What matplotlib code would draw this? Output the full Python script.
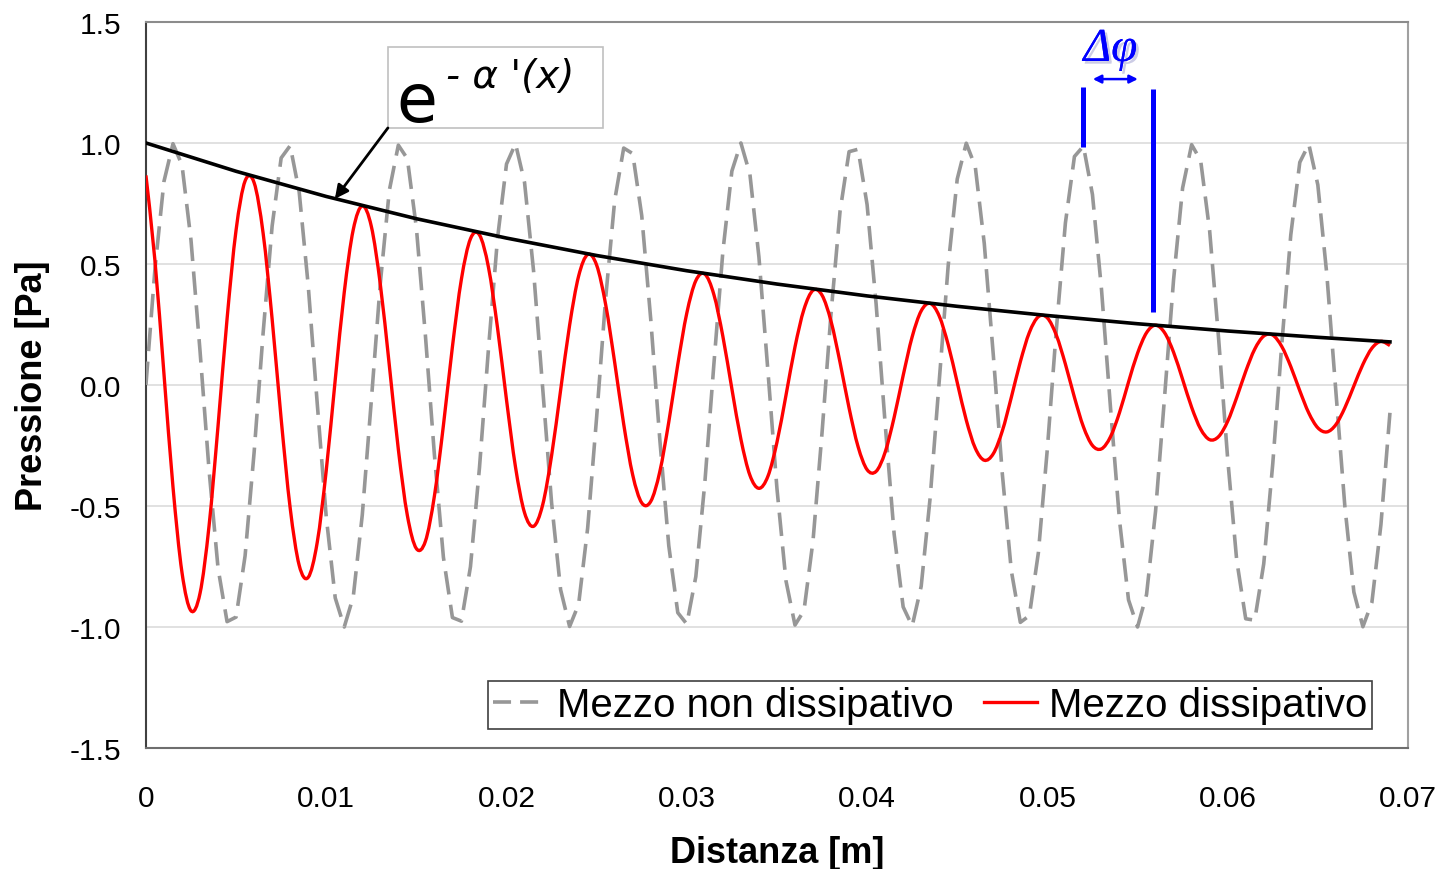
import numpy as np
import matplotlib
matplotlib.use("Agg")
import matplotlib.pyplot as plt
from matplotlib.patches import Rectangle, PathPatch
from matplotlib.path import Path
from matplotlib.lines import Line2D
import matplotlib.patheffects as pe

plt.rcParams['font.family'] = ['Liberation Sans', 'DejaVu Sans']
plt.rcParams['axes.unicode_minus'] = False

# passo di campionamento della distanza [m]
passo = 0.0005

# pressione nel mezzo non dissipativo [Pa]
p_non_diss = [
    0, 0.479, 0.841, 0.997, 0.909, 0.598, 0.141, -0.351, -0.757, -0.978, -0.959, -0.706, -0.279,
    0.215, 0.657, 0.938, 0.989, 0.798, 0.412, -0.075, -0.544, -0.880, -1.000, -0.875, -0.537, -0.066,
    0.420, 0.804, 0.991, 0.935, 0.650, 0.206, -0.288, -0.712, -0.961, -0.976, -0.751, -0.342,
    0.150, 0.605, 0.913, 0.997, 0.837, 0.472, -0.009, -0.487, -0.846, -0.998, -0.906, -0.592, -0.132,
    0.359, 0.763, 0.979, 0.956, 0.700, 0.271, -0.223, -0.664, -0.941, -0.988, -0.792, -0.404,
    0.084, 0.551, 0.884, 1.000, 0.871, 0.529, 0.057, -0.428, -0.809, -0.992, -0.932, -0.644, -0.198,
    0.296, 0.718, 0.964, 0.974, 0.745, 0.335, -0.159, -0.616, -0.917, -0.996, -0.832, -0.464,
    0.018, 0.495, 0.851, 0.999, 0.902, 0.584, 0.124, -0.367, -0.768, -0.981, -0.953, -0.693, -0.262,
    0.232, 0.670, 0.944, 0.987, 0.787, 0.396, -0.093, -0.559, -0.888, -1.000, -0.866, -0.522,
    -0.049, 0.436, 0.814, 0.993, 0.928, 0.637, 0.189, -0.305, -0.724, -0.966, -0.972, -0.739, -0.326,
    0.167, 0.620, 0.920, 0.995, 0.827, 0.456, -0.026, -0.502, -0.856, -0.999, -0.898, -0.577, -0.115,
]

# pressione nel mezzo dissipativo [Pa]
p_diss = [
    0.866, 0.514, 0.046, -0.421, -0.775, -0.933, -0.861, -0.583, -0.169, 0.273, 0.640, 0.843, 0.836,
    0.627, 0.272, -0.140, -0.508, -0.745, -0.795, -0.651, -0.354, 0.022, 0.383, 0.642, 0.740, 0.656,
    0.416, 0.081, -0.266, -0.539, -0.676, -0.646, -0.459, -0.167, 0.158, 0.438, 0.604, 0.620,
    0.486, 0.237, -0.062, -0.340, -0.528, -0.584, -0.497, -0.292, -0.022, 0.247, 0.450, 0.539, 0.495,
    0.332, 0.093, -0.162, -0.372, -0.487, -0.481, -0.359, -0.153, 0.085, 0.297, 0.431, 0.458,
    0.374, 0.201, -0.016, -0.224, -0.373, -0.427, -0.377, -0.237, -0.043, 0.157, 0.313, 0.391, 0.371,
    0.263, 0.093, -0.095, -0.255, -0.350, -0.357, -0.278, -0.134, 0.039, 0.199, 0.306, 0.337,
    0.285, 0.166, 0.010, -0.145, -0.261, -0.311, -0.284, -0.190, -0.051, 0.096, 0.217, 0.282, 0.277,
    0.205, 0.086, -0.051, -0.173, -0.250, -0.264, -0.214, -0.114, 0.012, 0.131, 0.216, 0.247,
    0.216, 0.135, 0.023, -0.092, -0.182, -0.226, -0.213, -0.150, -0.052, 0.056, 0.148, 0.202, 0.206,
    0.159, 0.076, -0.024, -0.116, -0.177, -0.194, -0.164, -0.094, -0.004, 0.085, 0.152, 0.180, 0.163,
]

# inviluppo esponenziale
x_inv = [0, 0.005, 0.01, 0.015, 0.02, 0.025, 0.03, 0.035, 0.04, 0.045, 0.05, 0.055, 0.06, 0.065, 0.069]
y_inv = [1.000, 0.883, 0.779, 0.687, 0.607, 0.535, 0.472, 0.417, 0.368, 0.325, 0.287, 0.253, 0.223, 0.197, 0.178]

x_ticks = [0, 0.01, 0.02, 0.03, 0.04, 0.05, 0.06, 0.07]
x_labels = ['0', '0.01', '0.02', '0.03', '0.04', '0.05', '0.06', '0.07']
y_ticks = [-1.5, -1.0, -0.5, 0.0, 0.5, 1.0, 1.5]
y_labels = ['-1.5', '-1.0', '-0.5', '0.0', '0.5', '1.0', '1.5']

x = np.arange(len(p_non_diss)) * passo

grigio = '#979797'
rosso = '#ff0000'


def linea_smussata(ax, xs, ys, **kw):
    # linea "smussata" come in Excel: segmenti di Bezier passanti per i punti
    p = np.column_stack([xs, ys]).astype(float)
    ext = np.vstack([p[0], p, p[-1]])
    verts = [p[0]]
    codes = [Path.MOVETO]
    for i in range(len(p) - 1):
        c1 = ext[i + 1] + (ext[i + 2] - ext[i]) / 6
        c2 = ext[i + 2] - (ext[i + 3] - ext[i + 1]) / 6
        verts += [c1, c2, p[i + 1]]
        codes += [Path.CURVE4] * 3
    patch = PathPatch(Path(verts, codes), fill=False, **kw)
    ax.add_patch(patch)
    return patch


fig = plt.figure(figsize=(14.42, 8.70), dpi=100)
ax = fig.add_axes([0.1012, 0.1391, 0.8752, 0.8345])

ax.plot(x, p_non_diss, color=grigio, lw=2.6, dashes=(6.5, 2.9),
        dash_capstyle='butt', dash_joinstyle='round', zorder=3)
linea_smussata(ax, x, p_diss, edgecolor=rosso, lw=2.4, zorder=4)
ax.plot(x_inv, y_inv, color='black', lw=2.6, zorder=5)

ax.set_xlim(0, 0.07)
ax.set_ylim(-1.5, 1.5)
ax.set_xticks(x_ticks)
ax.set_xticklabels(x_labels)
ax.set_yticks(y_ticks)
ax.set_yticklabels(y_labels)
ax.tick_params(axis='both', length=0, labelsize=21.5)
ax.tick_params(axis='x', pad=26)
ax.tick_params(axis='y', pad=18)
ax.yaxis.grid(True, color='#d9d9d9', lw=1.1)
ax.set_axisbelow(True)

ax.spines['left'].set_color('#404040')
ax.spines['bottom'].set_color('#6e6e6e')
ax.spines['top'].set_color('#8c8c8c')
ax.spines['right'].set_color('#a0a0a0')
for s in ax.spines.values():
    s.set_linewidth(1.5)

fig.text(777 / 1442, 1 - 863 / 870, 'Distanza [m]', ha='center', va='baseline',
         fontsize=26, fontweight='bold')
fig.text(33 / 1442, 1 - 386 / 870, 'Pressione [Pa]', ha='center', va='center',
         rotation=90, fontsize=26, fontweight='bold')

handles = [Line2D([], [], color=grigio, lw=2.6, dashes=(5, 2.5)),
           Line2D([], [], color=rosso, lw=2.4)]
leg = ax.legend(handles, ['Mezzo non dissipativo', 'Mezzo dissipativo'],
                loc='lower right', bbox_to_anchor=(0.9715, 0.026), borderaxespad=0,
                ncol=2, fontsize=29, frameon=True, fancybox=False, framealpha=1,
                edgecolor='#404040', borderpad=0.12, handlelength=1.3,
                handletextpad=0.3, columnspacing=0.75)
leg.get_frame().set_linewidth(1.2)

# riquadro con l'espressione dell'inviluppo
ax.add_patch(Rectangle((0.01342, 1.062), 0.01193, 0.335, facecolor='white',
                       edgecolor='#c0c0c0', lw=1.2, zorder=6))
ax.text(0.01387, 1.091, 'e', fontsize=48, family='DejaVu Sans', ha='left',
        va='baseline', zorder=7)
ax.text(0.01664, 1.231, "- \u03b1 '(x)", fontsize=28, family='DejaVu Sans',
        style='italic', ha='left', va='baseline', zorder=7)
ax.annotate('', xy=(0.01048, 0.769), xytext=(0.01342, 1.062),
            arrowprops=dict(arrowstyle='-|>', color='black', lw=2,
                            mutation_scale=20, shrinkA=0, shrinkB=0), zorder=7)

# sfasamento
blu = '#0000ff'
ax.plot([0.05197, 0.05197], [0.983, 1.231], color=blu, lw=3.6, solid_capstyle='butt', zorder=6)
ax.plot([0.05585, 0.05585], [0.302, 1.223], color=blu, lw=3.6, solid_capstyle='butt', zorder=6)
ax.annotate('', xy=(0.05502, 1.264), xytext=(0.05252, 1.264),
            arrowprops=dict(arrowstyle='<|-|>', color=blu, lw=1.8,
                            mutation_scale=12, shrinkA=0, shrinkB=0), zorder=7)
ax.text(0.0520, 1.339, '\u0394\u03c6', fontsize=34, family='Liberation Serif',
        style='italic', color=blu, ha='left', va='baseline', zorder=7,
        path_effects=[pe.withSimplePatchShadow(offset=(2, -2), shadow_rgbFace='#8080c0', alpha=0.4),
                      pe.Normal()])

fig.savefig('out.png', dpi=100)
